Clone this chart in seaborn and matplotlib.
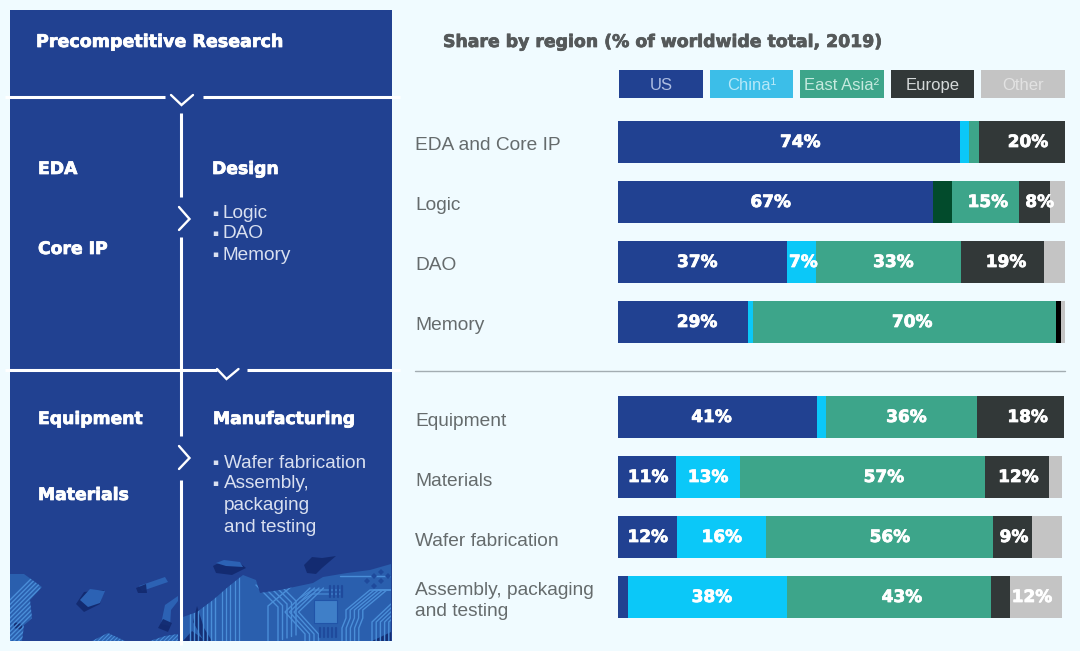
import matplotlib
matplotlib.use("Agg")
import matplotlib.pyplot as plt
import matplotlib.patheffects as pe
from matplotlib.patches import Polygon, Rectangle
from matplotlib.transforms import ScaledTranslation
import numpy as np
import pandas as pd
import seaborn as sns

# ---------- data (widths, % of bar length) ----------
categories_top = ["EDA and Core IP", "Logic", "DAO", "Memory"]
categories_bottom = ["Equipment", "Materials", "Wafer fabrication", "Assembly, packaging\nand testing"]
regions = ["US", "China¹", "East Asia²", "Europe", "Other"]

us = [76.6, 70.5, 37.7, 29.1, 44.5, 13.0, 13.3, 2.2]
china = [1.95, 4.25, 6.6, 1.05, 2.0, 14.3, 19.8, 35.6]
east_asia = [2.2, 15.0, 32.4, 67.9, 33.8, 54.9, 50.9, 45.6]
europe = [19.2, 6.9, 18.6, 1.1, 19.5, 14.3, 8.7, 4.3]
other = [0.0, 3.35, 4.7, 0.85, 0.0, 2.8, 6.6, 11.6]

labels_us = ["74%", "67%", "37%", "29%", "41%", "11%", "12%", ""]
labels_china = ["", "", "7%", "", "", "13%", "16%", "38%"]
labels_east_asia = ["", "15%", "33%", "70%", "36%", "57%", "56%", "43%"]
labels_europe = ["20%", "8%", "19%", "", "18%", "12%", "9%", ""]
labels_other = ["", "", "", "", "", "", "", "12%"]

# ---------- style ----------
BG = "#F0FBFF"
PANEL = "#214191"
colors = ["#214191", "#0BC8F8", "#3DA58A", "#323838", "#C4C4C4"]
legend_colors = ["#214191", "#3CBEE8", "#3DA58A", "#323838", "#C4C4C4"]
legend_text = ["#AEBEE2", "#B5E8F8", "#C6EADF", "#D5D9D9", "#E2E2E2"]
LOGIC_CHINA = "#024B2C"
MEMORY_EUROPE = "#000000"
REG = "Liberation Sans"
BOLD = "DejaVu Sans"

sns.set_theme(style="white")
plt.rcParams["font.family"] = [REG, "DejaVu Sans"]
W, H = 1080, 651
fig = plt.figure(figsize=(W / 100, H / 100), dpi=100, facecolor=BG)


def px_axes(x0, y0, x1, y1, **kw):
    return fig.add_axes([x0 / W, 1 - y1 / H, (x1 - x0) / W, (y1 - y0) / H], **kw)


def heavy(color, width=0.55):
    return [pe.withStroke(linewidth=width, foreground=color)]


# ---------- background canvas in pixel units ----------
bg = px_axes(0, 0, W, H)
bg.set_xlim(0, W)
bg.set_ylim(H, 0)
bg.axis("off")
bg.add_patch(Rectangle((10, 10), 381.5, 631, fc=PANEL, ec="none", zorder=1))

# decorative circuit-board land masses
LAND = "#2A5FAE"
TRACE = "#4A8ED8"
SHADOW = "#12296E"


def land(points, color=LAND):
    poly = Polygon(points, closed=True, fc=color, ec="none", zorder=2)
    bg.add_patch(poly)
    return poly


def traces(poly, paths, dx=0, dy=0, n=1, lw=1.0, color=TRACE):
    for k in range(n):
        for path in paths:
            xs = [p[0] + k * dx for p in path]
            ys = [p[1] + k * dy for p in path]
            ln, = bg.plot(xs, ys, color=color, lw=lw, zorder=3, solid_joinstyle="miter")
            ln.set_clip_path(poly)


def shadow(points):
    bg.add_patch(Polygon(points, closed=True, fc=SHADOW, ec="none", zorder=2, alpha=0.9))


main = land([(183, 641), (183, 617), (197, 612), (213, 600), (228, 587), (243, 575), (256, 580), (260, 593),
             (280, 590), (313, 583), (323, 577), (347, 573), (370, 570), (391, 564), (391, 641)])
traces(main, [[(190, 575), (190, 641)]], dx=4.2, n=7)
traces(main, [[(222, 575), (222, 641)]], dx=4.2, n=5, lw=0.9)
traces(main, [[(256, 585), (278, 607), (278, 641)]], dx=4.5, dy=-1.5, n=5)
traces(main, [[(268, 641), (268, 606), (292, 586)]], dx=0, dy=0, n=1)
traces(main, [[(305, 641), (305, 634), (285, 612), (310, 588)]], dx=4.5, n=4)
traces(main, [[(342, 641), (342, 628), (346, 618), (346, 610), (370, 590), (391, 590)]], dx=4.2, n=5)
traces(main, [[(391, 604), (372, 622), (372, 641)]], dx=4.2, n=5)
traces(main, [[(340, 576), (391, 576)]], dy=4, n=1)
traces(main, [[(300, 598), (312, 590), (340, 590)]], dy=4, n=2, lw=0.8)
for gx in np.arange(330, 346, 4):
    traces(main, [[(gx, 586), (gx, 597)]], lw=1.6, color="#1F4A9C")
for gx in np.arange(320, 340, 4):
    traces(main, [[(gx, 628), (gx, 637)]], lw=1.6, color="#1F4A9C")
for cx, cy in [(367, 581), (374, 576), (381, 581), (374, 586), (381, 572), (388, 576)]:
    bg.add_patch(Polygon([(cx - 3, cy), (cx, cy - 3), (cx + 3, cy), (cx, cy + 3)], fc="#1F4A9C", ec="none", zorder=4))
bg.add_patch(Rectangle((314, 600), 23, 23, fc="#3F7FC8", ec="#2154A8", lw=0.8, zorder=4))

left = land([(10, 574), (24, 574), (42, 587), (30, 600), (32, 618), (24, 625), (22, 641), (10, 641)])
traces(left, [[(10, 600), (40, 570)]], dx=0, dy=4.5, n=16)

# islands with shadows
shadow([(213, 566), (222, 561), (240, 563), (246, 568), (232, 575), (216, 573)])
isl = land([(216, 563), (224, 560), (240, 562), (243, 567), (226, 566)], color="#2C62B4")
shadow([(304, 565), (312, 557), (322, 558), (336, 556), (322, 568), (316, 574), (307, 573)])
shadow([(76, 604), (84, 592), (104, 590), (100, 604), (84, 612)])
isl = land([(80, 600), (90, 589), (105, 591), (100, 603), (88, 607)], color="#2C62B4")
land([(139, 586), (165, 577), (168, 582), (142, 591)], color="#2C62B4")
shadow([(136, 588), (146, 584), (147, 593), (138, 593)])
land([(161, 624), (165, 605), (178, 596), (178, 601), (171, 610), (170, 626)], color="#2C62B4")
shadow([(158, 628), (163, 619), (172, 623), (168, 632)])
b1 = land([(92, 641), (108, 633), (125, 641)])
traces(b1, [[(90, 641), (100, 631)]], dx=4, n=9, lw=0.8)
b2 = land([(150, 641), (165, 636), (178, 634), (178, 641)])
traces(b2, [[(148, 641), (158, 631)]], dx=4, n=9, lw=0.8)
shadow([(183, 641), (192, 631), (206, 641)])
shadow([(197, 606), (204, 628), (212, 641), (204, 641), (193, 622)])
shadow([(14, 622), (22, 624), (22, 630), (14, 628)])
shadow([(372, 641), (391, 632), (391, 641)])

# white rules and chevrons
WHITE = "white"
rule = dict(color=WHITE, lw=2.2, zorder=6, solid_capstyle="butt")
chev = dict(color=WHITE, lw=1.7, zorder=6, solid_joinstyle="miter")
bg.plot([5, 165], [97, 97], **rule)
bg.plot([203, 400], [97, 97], **rule)
bg.plot([171, 181.5, 193], [95, 105, 95], **chev)
bg.plot([180.5, 180.5], [113, 197], **rule)
bg.plot([179, 189.5, 179], [207, 219, 230], **chev)
bg.plot([180.5, 180.5], [237, 436], **rule)
bg.plot([5, 217], [370, 370], **rule)
bg.plot([247, 400], [370, 370], **rule)
bg.plot([217, 226.5, 238.5], [369, 379, 369], **chev)
bg.plot([179, 189.5, 179], [446, 458, 469], **chev)
bg.plot([180.5, 180.5], [480, 645], **rule)

# panel text
for x, y, s in [(36, 42, "Precompetitive Research"), (38, 169, "EDA"), (212, 169, "Design"),
                (38, 249, "Core IP"), (38, 419, "Equipment"), (213, 419, "Manufacturing"),
                (38, 495, "Materials")]:
    bg.text(x, y, s, color="white", fontsize=12.6 if s[0] == "P" else 12.4, fontweight="bold", family=BOLD,
            va="center", ha="left", zorder=7, path_effects=heavy("white"))
SOFT = "#D9E0F0"
for y, s, b in [(214, "Logic", 1), (234, "DAO", 1), (255.5, "Memory", 1), (463.5, "Wafer fabrication", 1),
                (484, "Assembly,", 1), (505.5, "packaging", 0), (528, "and testing", 0)]:
    bg.text(224 if y > 300 else 223, y, s, color=SOFT, fontsize=13.7, va="center", ha="left", zorder=7)
    if b:
        bg.text(215, y - 1, "▪", color=SOFT, fontsize=6.5, va="center", ha="center", zorder=7, family="DejaVu Sans")

# title and divider
bg.text(443, 42, "Share by region (% of worldwide total, 2019)", color="#55595A", fontsize=12.45,
        fontweight="bold", family=BOLD, va="center", ha="left", path_effects=heavy("#55595A"))
bg.plot([415, 1065], [370.5, 370.5], color="#A3ADB2", lw=1.0)

# ---------- legend swatches ----------
leg = px_axes(616, 70, 1068, 98)
leg.patch.set_alpha(0)
sns.barplot(x=regions, y=[1] * 5, hue=regions, palette=legend_colors, legend=False, saturation=1,
            width=0.925, linewidth=0, ax=leg)
leg.set_xlim(-0.5, 4.5)
leg.set_ylim(0, 1)
leg.axis("off")
for i, (r, c) in enumerate(zip(regions, legend_text)):
    leg.text(i, 0.44, r, color=c, fontsize=12, ha="center", va="center")

# ---------- stacked bars: segments drawn back to front on cumulative values ----------
table = pd.DataFrame({"US": us, "China": china, "East Asia": east_asia, "Europe": europe, "Other": other})
cum = table.cumsum(axis=1)
label_rows = [labels_us, labels_china, labels_east_asia, labels_europe, labels_other]

# horizontal nudges in pixels from each segment's centre, one row per bar
nudges = np.array([
    [11, 0, 0, 6, 0], [-5, 0, 2, 5, 0], [-5, 2, 5, 3.5, 0], [14, 0, 7.5, 0, 0],
    [-6, 0, 5, 7, 0], [1, 0, 21, 1, 0], [0, 0, 10, 1, 0], [0, 4.5, 13, 0, -4],
])
PX_PER_UNIT = 447 / 100


def stacked(ax, names, rows):
    for j in reversed(range(5)):
        sns.barplot(x=cum.iloc[rows, j].values, y=names, color=colors[j], saturation=1, width=0.7,
                    orient="h", linewidth=0, ax=ax, zorder=2 + (5 - j))
    ax.set_xlim(0, 100)
    ax.set_ylim(3.5, -0.5)
    ax.patch.set_alpha(0)
    sns.despine(ax=ax, left=True, bottom=True)
    ax.set_xticks([])
    ax.set_xlabel("")
    ax.set_ylabel("")
    ax.tick_params(axis="y", length=0, pad=203 * 0.72, labelsize=13.8, labelcolor="#656B6C")
    for t in ax.get_yticklabels():
        t.set_ha("left")
        t.set_linespacing(1.3)
    for i, row in enumerate(rows):
        for j in range(5):
            text = label_rows[j][row]
            if text:
                start = cum.iloc[row, j - 1] if j else 0
                mid = (start + cum.iloc[row, j]) / 2 + nudges[row, j] / PX_PER_UNIT
                ax.text(mid, i, text, color="white", fontsize=12.2, fontweight="bold", family=BOLD,
                        ha="center", va="center", zorder=10, path_effects=heavy("white"))


top = px_axes(618, 112, 1065, 352)
stacked(top, categories_top, [0, 1, 2, 3])
bottom = px_axes(618, 387, 1065, 627)
stacked(bottom, categories_bottom, [4, 5, 6, 7])

# category labels sit slightly below their bars' centres
for axis, items, px in [(top, top.get_yticklabels(), 1), (bottom, bottom.get_yticklabels()[:3], 2)]:
    shift = ScaledTranslation(0, -px / 100, fig.dpi_scale_trans)
    for t in items:
        t.set_transform(t.get_transform() + shift)

# two segments use a different colour in the picture; containers run Other -> US
top.containers[3][1].set_facecolor(LOGIC_CHINA)
top.containers[1][3].set_facecolor(MEMORY_EUROPE)

fig.savefig("out.png", dpi=100, facecolor=BG)
